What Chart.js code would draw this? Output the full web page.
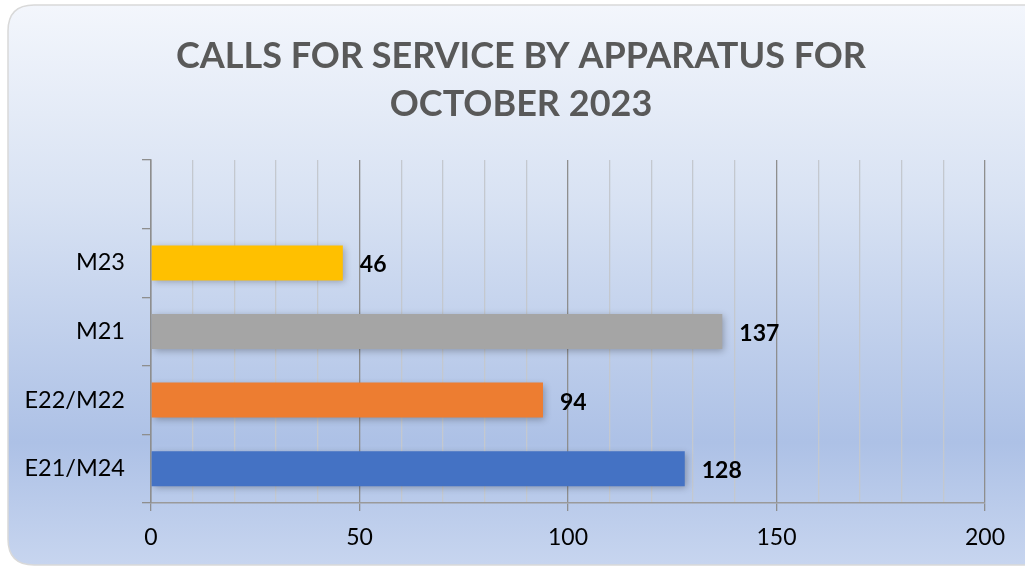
<!DOCTYPE html>
<html>
<head>
<meta charset="utf-8">
<script src="https://cdn.jsdelivr.net/npm/chart.js@4"></script>
<style>
  html, body { margin: 0; padding: 0; background: #fff; }
  #wrap { width: 1025px; height: 568px; }
</style>
</head>
<body>
<div id="wrap"><canvas id="callsChart" width="1025" height="568"></canvas></div>
<script>
// Data for the bar chart
const apparatus = ["", "M23", "M21", "E22/M22", "E21/M24"];
const calls = [null, 46, 137, 94, 128];
const barColors = ["#FFC000", "#FFC000", "#A5A5A5", "#ED7D31", "#4472C4"];
const majorTicks = [0, 50, 100, 150, 200];
const titleLines = ['CALLS FOR SERVICE BY APPARATUS FOR', 'OCTOBER 2023'];

const FONT = "Lato, 'Open Sans', sans-serif";

// Panel with gradient behind the chart, plus the title text
const panelPlugin = {
    id: 'panel',
    beforeDraw(chart) {
        const ctx = chart.ctx;
        const x = 8, y = 5, w = 1040, h = 560, r = 26;
        const g = ctx.createLinearGradient(0, y, 0, y + h);
        g.addColorStop(0, '#f3f6fc');
        g.addColorStop(0.35, '#d8e2f3');
        g.addColorStop(0.78, '#adc1e6');
        g.addColorStop(1, '#c7d5ef');
        ctx.save();
        ctx.beginPath();
        ctx.moveTo(x + r, y);
        ctx.lineTo(x + w, y);
        ctx.lineTo(x + w, y + h);
        ctx.lineTo(x + r, y + h);
        ctx.quadraticCurveTo(x, y + h, x, y + h - r);
        ctx.lineTo(x, y + r);
        ctx.quadraticCurveTo(x, y, x + r, y);
        ctx.closePath();
        ctx.fillStyle = g;
        ctx.fill();
        ctx.lineWidth = 1.5;
        ctx.strokeStyle = '#d9d9d9';
        ctx.stroke();

        // title
        ctx.font = "bold 36px " + FONT;
        ctx.fillStyle = '#595959';
        ctx.textAlign = 'center';
        ctx.textBaseline = 'middle';
        ctx.fillText(titleLines[0], 521, 56);
        ctx.fillText(titleLines[1], 521, 104);
        ctx.restore();
    }
};

// Soft shadow under the bars
const shadowPlugin = {
    id: 'barShadow',
    beforeDatasetsDraw(chart) {
        const ctx = chart.ctx;
        ctx.save();
        ctx.shadowColor = 'rgba(0, 0, 0, 0.28)';
        ctx.shadowBlur = 7;
        ctx.shadowOffsetX = 2;
        ctx.shadowOffsetY = 2;
    },
    afterDatasetsDraw(chart) {
        chart.ctx.restore();
    }
};

// Value labels at the end of each bar
const valueLabels = {
    id: 'valueLabels',
    afterDatasetsDraw(chart) {
        const ctx = chart.ctx;
        const meta = chart.getDatasetMeta(0);
        ctx.save();
        ctx.font = "bold 23px " + FONT;
        ctx.fillStyle = '#000';
        ctx.textAlign = 'left';
        ctx.textBaseline = 'middle';
        meta.data.forEach((bar, i) => {
            const v = calls[i];
            if (v === null) return;
            ctx.fillText(String(v), bar.x + 17, bar.y + 2);
        });
        ctx.restore();
    }
};

const config = {
    type: 'bar',
    data: {
        labels: apparatus,
        datasets: [{
            data: calls,
            backgroundColor: barColors,
            borderWidth: 0,
            categoryPercentage: 1,
            barPercentage: 0.51
        }]
    },
    plugins: [panelPlugin, shadowPlugin, valueLabels],
    options: {
        indexAxis: 'y',
        responsive: false,
        animation: false,
        layout: { padding: { left: 0, right: 40, top: 160, bottom: 0 } },
        plugins: {
            legend: { display: false },
            tooltip: { enabled: false },
            title: { display: false }
        },
        scales: {
            x: {
                min: 0,
                max: 200,
                afterFit(scale) { scale.height = 65; },
                afterBuildTicks(scale) {
                    const t = [];
                    for (let v = 0; v <= 200; v += 10) t.push({ value: v });
                    scale.ticks = t;
                },
                ticks: {
                    color: '#000',
                    font: { family: FONT, size: 23 },
                    padding: 13,
                    maxRotation: 0,
                    autoSkip: false,
                    callback: (v) => majorTicks.includes(v) ? String(v) : ''
                },
                grid: {
                    color: (c) => majorTicks.includes(c.tick && c.tick.value) ? '#8e8e8e' : '#c4c8cf',
                    tickColor: (c) => majorTicks.includes(c.tick && c.tick.value) ? '#8e8e8e' : 'rgba(0,0,0,0)',
                    lineWidth: 1.3,
                    tickLength: 8
                },
                border: { color: '#9a9a9a', width: 1.5 }
            },
            y: {
                afterFit(scale) { scale.width = 151; },
                ticks: {
                    color: '#000',
                    font: { family: FONT, size: 23.5 },
                    padding: 17
                },
                grid: {
                    offset: true,
                    drawOnChartArea: false,
                    tickColor: '#8e8e8e',
                    tickLength: 9,
                    lineWidth: 1.3
                },
                border: { color: '#8e8e8e', width: 1.5 }
            }
        }
    }
};

// Create the chart
const callsChart = new Chart(document.getElementById('callsChart'), config);
</script>
</body>
</html>
